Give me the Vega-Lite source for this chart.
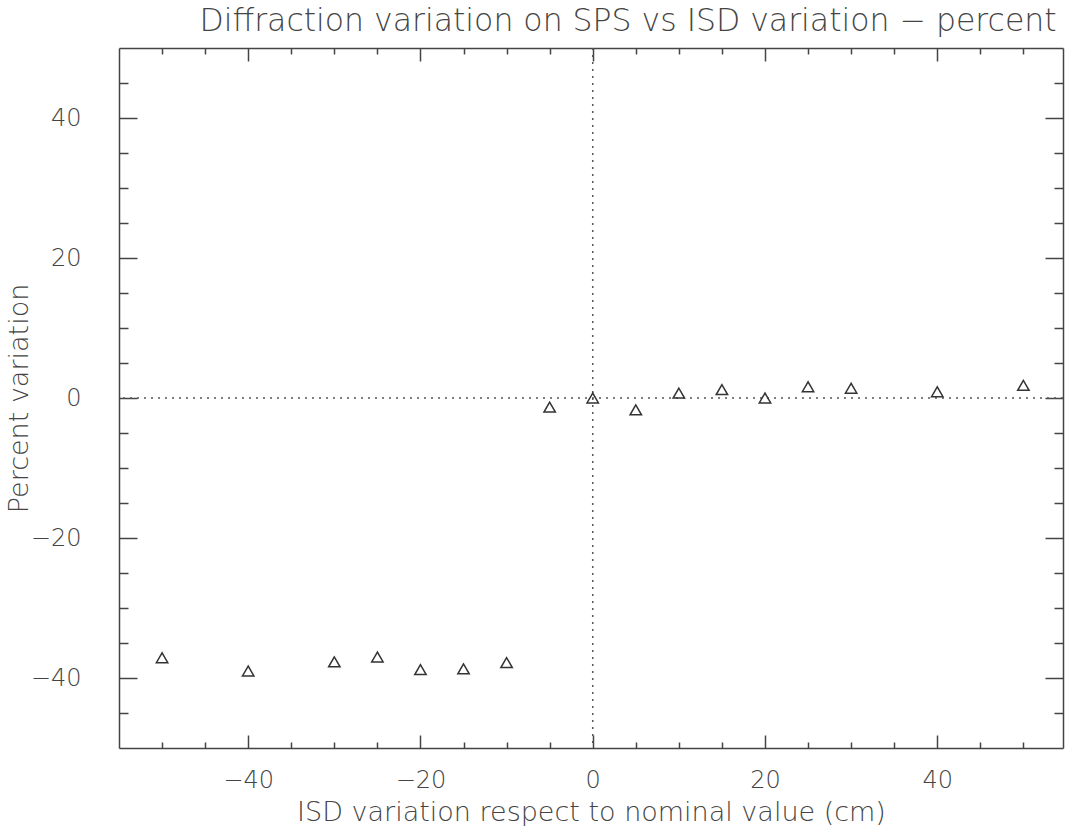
{
  "$schema": "https://vega.github.io/schema/vega-lite/v6.json",
  "autosize": {"type": "none"},
  "padding": {"left": 119, "top": 48, "right": 4, "bottom": 78},
  "width": 944,
  "height": 700,
  "background": "white",
  "title": {"text": "Diffraction variation on SPS vs ISD variation − percent", "font": "DejaVu Sans", "fontSize": 31.5, "fontWeight": 200, "color": "#444444", "anchor": "middle", "dx": 37, "offset": 10},
  "datasets": {
    "pts": [
      {"x": -50, "y": -37.1}, {"x": -40, "y": -39.0}, {"x": -30, "y": -37.7}, {"x": -25, "y": -37.0},
      {"x": -20, "y": -38.8}, {"x": -15, "y": -38.7}, {"x": -10, "y": -37.8}, {"x": -5, "y": -1.3},
      {"x": 0, "y": 0.0}, {"x": 5, "y": -1.7}, {"x": 10, "y": 0.7}, {"x": 15, "y": 1.2},
      {"x": 20, "y": 0.0}, {"x": 25, "y": 1.6}, {"x": 30, "y": 1.4}, {"x": 40, "y": 0.9}, {"x": 50, "y": 1.8}
    ],
    "zero": [{"v": 0}]
  },
  "config": {
    "view": {"stroke": null},
    "axis": {"domainColor": "#444444", "tickColor": "#444444", "labelColor": "#444444", "titleColor": "#444444", "labelFont": "DejaVu Sans", "titleFont": "DejaVu Sans", "labelFontSize": 24, "labelFontWeight": 200, "titleFontSize": 27, "titleFontWeight": 200, "grid": false, "domainWidth": 1.5, "tickWidth": 1.5}
  },
  "layer": [
    {
      "data": {"name": "zero"},
      "mark": {"type": "rule", "color": "#555555", "strokeDash": [2, 5], "strokeWidth": 1.5},
      "encoding": {
        "x": {"field": "v", "type": "quantitative", "scale": {"domain": [-55, 54.6], "nice": false, "zero": false},
              "axis": {"orient": "top", "values": [-40, -20, 0, 20, 40], "tickSize": -13, "labels": false, "title": null}}
      }
    },
    {
      "data": {"name": "zero"},
      "mark": {"type": "rule", "color": "#555555", "strokeDash": [2, 5], "strokeWidth": 1.5},
      "encoding": {
        "y": {"field": "v", "type": "quantitative", "scale": {"domain": [-50, 50], "nice": false, "zero": false},
              "axis": {"orient": "right", "values": [-40, -20, 0, 20, 40], "tickSize": -18, "labels": false, "title": null}}
      }
    },
    {
      "data": {"name": "pts"},
      "mark": {"type": "point", "opacity": 0},
      "encoding": {
        "x": {"field": "x", "type": "quantitative", "scale": {"domain": [-55, 54.6], "nice": false, "zero": false},
              "axis": {"orient": "bottom", "values": [-50, -45, -35, -30, -25, -15, -10, -5, 5, 10, 15, 25, 30, 35, 45, 50], "tickSize": -6, "labels": false, "domain": false, "title": null}},
        "y": {"field": "y", "type": "quantitative", "scale": {"domain": [-50, 50], "nice": false, "zero": false},
              "axis": {"orient": "left", "values": [-45, -35, -30, -25, -15, -10, -5, 5, 10, 15, 25, 30, 35, 45], "tickSize": -9, "labels": false, "domain": false, "title": null}}
      }
    },
    {
      "data": {"name": "pts"},
      "mark": {"type": "point", "opacity": 0},
      "encoding": {
        "x": {"field": "x", "type": "quantitative", "scale": {"domain": [-55, 54.6], "nice": false, "zero": false},
              "axis": {"orient": "top", "values": [-50, -45, -35, -30, -25, -15, -10, -5, 5, 10, 15, 25, 30, 35, 45, 50], "tickSize": -6, "labels": false, "domain": false, "title": null}},
        "y": {"field": "y", "type": "quantitative", "scale": {"domain": [-50, 50], "nice": false, "zero": false},
              "axis": {"orient": "right", "values": [-45, -35, -30, -25, -15, -10, -5, 5, 10, 15, 25, 30, 35, 45], "tickSize": -9, "labels": false, "domain": false, "title": null}}
      }
    },
    {
      "data": {"name": "pts"},
      "mark": {"type": "point", "shape": "triangle-up", "filled": false, "size": 130, "stroke": "#333333", "strokeWidth": 1.5, "opacity": 1},
      "encoding": {
        "x": {"field": "x", "type": "quantitative", "scale": {"domain": [-55, 54.6], "nice": false, "zero": false},
              "axis": {"orient": "bottom", "values": [-40, -20, 0, 20, 40], "tickSize": -13, "labelPadding": 33, "title": "ISD variation respect to nominal value (cm)", "titlePadding": 7}},
        "y": {"field": "y", "type": "quantitative", "scale": {"domain": [-50, 50], "nice": false, "zero": false},
              "axis": {"orient": "left", "values": [-40, -20, 0, 20, 40], "tickSize": -18, "labelPadding": 56, "title": "Percent variation", "titlePadding": -3}}
      }
    }
  ],
  "resolve": {"axis": {"x": "independent", "y": "independent"}}
}
